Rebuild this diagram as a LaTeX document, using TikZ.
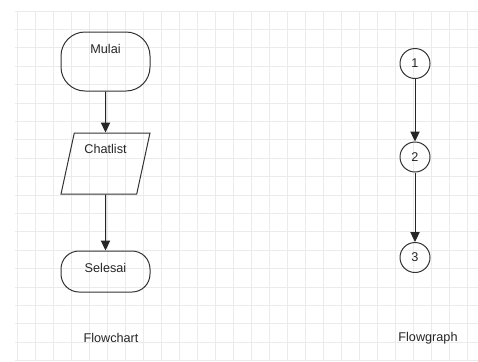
\documentclass[tikz,border=0pt]{standalone}
\usepackage{fontspec}
\setmainfont{Liberation Sans}
\usetikzlibrary{positioning,arrows.meta,shapes.geometric}

\begin{document}
\begin{tikzpicture}[x=0.75pt,y=-0.75pt,
    terminal/.style={draw=black!80, rounded corners=18pt, minimum width=66.75pt, minimum height=44.25pt, line width=0.75pt},
    io/.style={draw=black!80, trapezium, trapezium left angle=77, trapezium right angle=103, trapezium stretches=true, minimum width=66.75pt, minimum height=45.75pt, line width=0.75pt},
    vertex/.style={draw=black!80, circle, minimum size=22.5pt, inner sep=0pt, line width=0.75pt},
    flow/.style={-{Triangle[width=7pt,length=7.5pt]}, draw=black!85, fill=black!85, line width=0.75pt},
    gridline/.style={draw=black!8, line width=0.75pt},
    every node/.style={font=\fontsize{9.5}{11}\selectfont, text=black!85}]
    \useasboundingbox (0,0) rectangle (478,361);

    % background grid
    \foreach \gx in {0,...,25}
        \draw[gridline] (17+18*\gx,11) -- (17+18*\gx,361);
    \foreach \gy in {0,...,19}
        \draw[gridline] (15,11+18.4*\gy) -- (478,11+18.4*\gy);

    % Flowchart
    \node[terminal, text depth=18.75pt] (mulai) at (105.5,61.5) {Mulai};
    \node[io, text depth=21.75pt] (chatlist) at (105.5,163.5) {Chatlist};
    \node[terminal, rounded corners=13.5pt, minimum height=30.75pt, text depth=6pt] (selesai) at (105.5,271.5) {Selesai};

    \draw[flow] (mulai) -- (chatlist);
    \draw[flow] (chatlist) -- (selesai);

    % Flowgraph
    \node[vertex] (n1) at (415,63.5) {1};
    \node[vertex] (n2) at (415,157) {2};
    \node[vertex] (n3) at (415,257.5) {3};

    \draw[flow] (n1) -- (n2);
    \draw[flow] (n2) -- (n3);

    % captions
    \node (flowchart) at (111,338) {Flowchart};
    \node (flowgraph) at (428,338) {Flowgraph};
\end{tikzpicture}
\end{document}
